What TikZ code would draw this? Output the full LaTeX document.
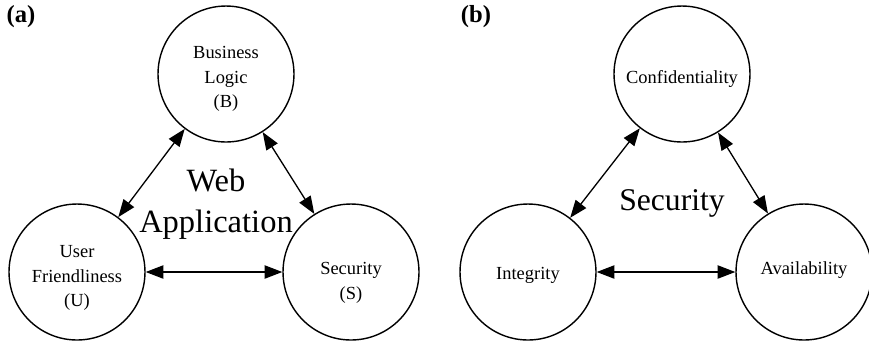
\documentclass[tikz,border=0pt]{standalone}
\usepackage{fontspec}
\setmainfont{Liberation Serif}
\usetikzlibrary{arrows.meta}

\begin{document}
\begin{tikzpicture}[x=0.02cm,y=-0.02cm,
  circ/.style={draw,circle,line width=0.8pt,minimum size=2.72cm,inner sep=0pt},
  txt/.style={align=center,font=\fontsize{10.5}{14}\selectfont},
  link/.style={{Triangle[length=10pt,width=7.5pt]}-{Triangle[length=10pt,width=7.5pt]},line width=0.75pt},
  big/.style={align=center,font=\fontsize{18.5}{23}\selectfont},
  tag/.style={font=\bfseries\fontsize{14}{16}\selectfont}]
\useasboundingbox (0,0) rectangle (869,343);

% (a) web application
\node[tag] (taga) at (21,17) {(a)};
\node[circ,label={[txt,yshift=-0.1cm]center:Business\\Logic\\(B)}] (B) at (226,74) {};
\node[circ,label={[txt,yshift=-0.12cm]center:User\\Friendliness\\(U)}] (U) at (77,272) {};
\node[circ,label={[txt,yshift=-0.22cm]center:Security\\(S)}] (S) at (351,272) {};
\node[big] (web) at (216,204) {Web\\Application};

\draw[link] (B) -- (U);
\draw[link] (B) -- (S);
\draw[link] (U) -- (S);

% (b) security
\node[tag] (tagb) at (476,17) {(b)};
\node[circ,label={[txt,yshift=-0.1cm]center:Confidentiality}] (C) at (682,74) {};
\node[circ,label={[txt,yshift=-0.06cm]center:Integrity}] (I) at (528,272) {};
\node[circ,label={[txt,yshift=0.03cm]center:Availability}] (A) at (804,272) {};
\node[big,font=\fontsize{18}{22}\selectfont] (sec) at (672,203) {Security};

\draw[link] (C) -- (I);
\draw[link] (C) -- (A);
\draw[link] (I) -- (A);
\end{tikzpicture}
\end{document}
